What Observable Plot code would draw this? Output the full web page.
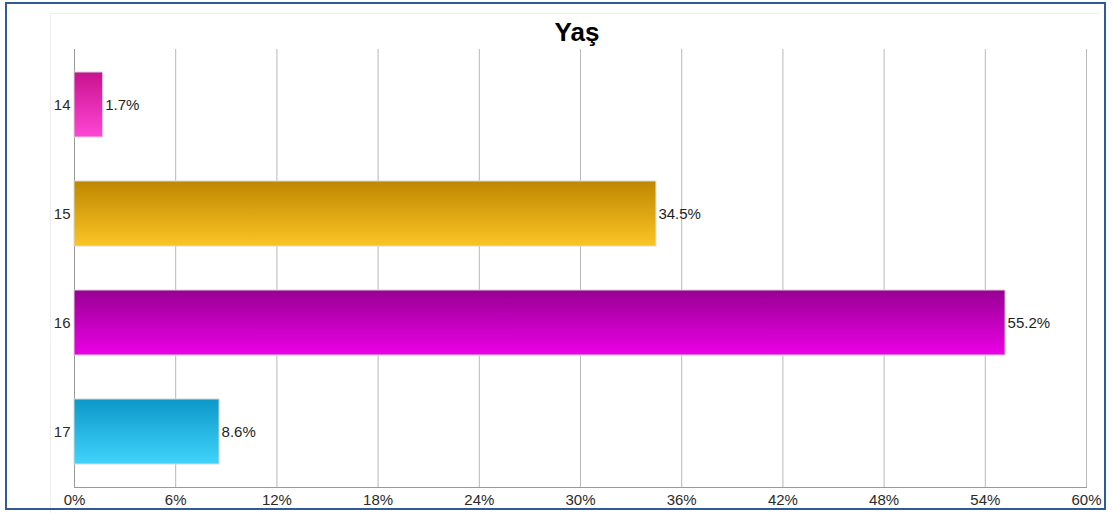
<!DOCTYPE html>
<html>
<head>
<meta charset="utf-8">
<script src="https://cdn.jsdelivr.net/npm/d3@7"></script>
<script src="https://cdn.jsdelivr.net/npm/@observablehq/plot@0.6"></script>
<style>
  html, body { margin: 0; padding: 0; background: #fff; }
  #wrap { position: relative; width: 1113px; height: 513px; overflow: hidden; font-family: "Liberation Sans", Arial, sans-serif; }
  #panel { position: absolute; left: 50px; top: 13px; width: 1048px; height: 520px; border-left: 1px solid #eeeeee; border-top: 1px solid #eeeeee; }
  #title { position: relative; height: 49px; }
  #title span { position: absolute; left: 0; width: 1113px; padding-left: 41px; box-sizing: border-box; top: 19px; text-align: center; font-size: 26px; line-height: 26px; font-weight: bold; color: #000; }
  #frame { position: absolute; left: 5px; top: 2px; width: 1097px; height: 504px; border: 2px solid #2f5b96; pointer-events: none; }
  #chart svg { display: block; }
</style>
</head>
<body>
<div id="wrap">
  <div id="panel"></div>
  <div id="title"><span>Yaş</span></div>
  <div id="chart"></div>
  <div id="frame"></div>
</div>
<script>
const ages = ["14", "15", "16", "17"];
const values = [1.7, 34.5, 55.2, 8.6];
const xTicks = [0, 6, 12, 18, 24, 30, 36, 42, 48, 54, 60];
const colorTop = ["#c8128f", "#be8700", "#980094", "#0c98c9"];
const colorBottom = ["#ff46d6", "#fbc526", "#ec00e6", "#40d4fb"];

const rows = ages.map((a, i) => ({ age: a, value: values[i], grad: `url(#grad${a})` }));

const plot = Plot.plot({
  width: 1113,
  height: 464,
  marginTop: 0,
  marginBottom: 26,
  marginLeft: 74,
  marginRight: 27,
  style: { fontFamily: "'Liberation Sans', Arial, sans-serif", fontSize: "15px", color: "#222", background: "transparent" },
  x: { domain: [0, 60], ticks: xTicks, tickFormat: d => d + "%", label: null },
  y: { domain: ages, paddingInner: 0.4, paddingOuter: 0.2, label: null },
  color: { type: "identity" },
  marks: [
    Plot.gridX(xTicks, { stroke: "#b8b8b8", strokeOpacity: 1 }),
    Plot.ruleX([0], { stroke: "#999" }),
    Plot.frame({ anchor: "bottom", stroke: "#999" }),
    Plot.barX(rows, { y: "age", x: "value", fill: "grad", stroke: "#d8d8d8", strokeWidth: 1 }),
    Plot.text(rows, { y: "age", x: "value", text: d => d.value.toFixed(1) + "%", textAnchor: "start", dx: 2, fill: "#1e1e1e", fontSize: 15 }),
    Plot.axisX(xTicks, { tickSize: 0, tickPadding: 7, fontSize: 15, fill: "#2a2a2a", tickFormat: d => d + "%" }),
    Plot.axisY({ tickSize: 0, tickPadding: 4, fontSize: 15, fill: "#2a2a2a" })
  ]
});

const svg = d3.select(plot);
const defs = svg.insert("defs", ":first-child");
ages.forEach((a, i) => {
  const g = defs.append("linearGradient").attr("id", "grad" + a)
    .attr("x1", 0).attr("y1", 0).attr("x2", 0).attr("y2", 1);
  g.append("stop").attr("offset", "0%").attr("stop-color", colorTop[i]);
  g.append("stop").attr("offset", "100%").attr("stop-color", colorBottom[i]);
});

document.getElementById("chart").appendChild(plot);
</script>
</body>
</html>
